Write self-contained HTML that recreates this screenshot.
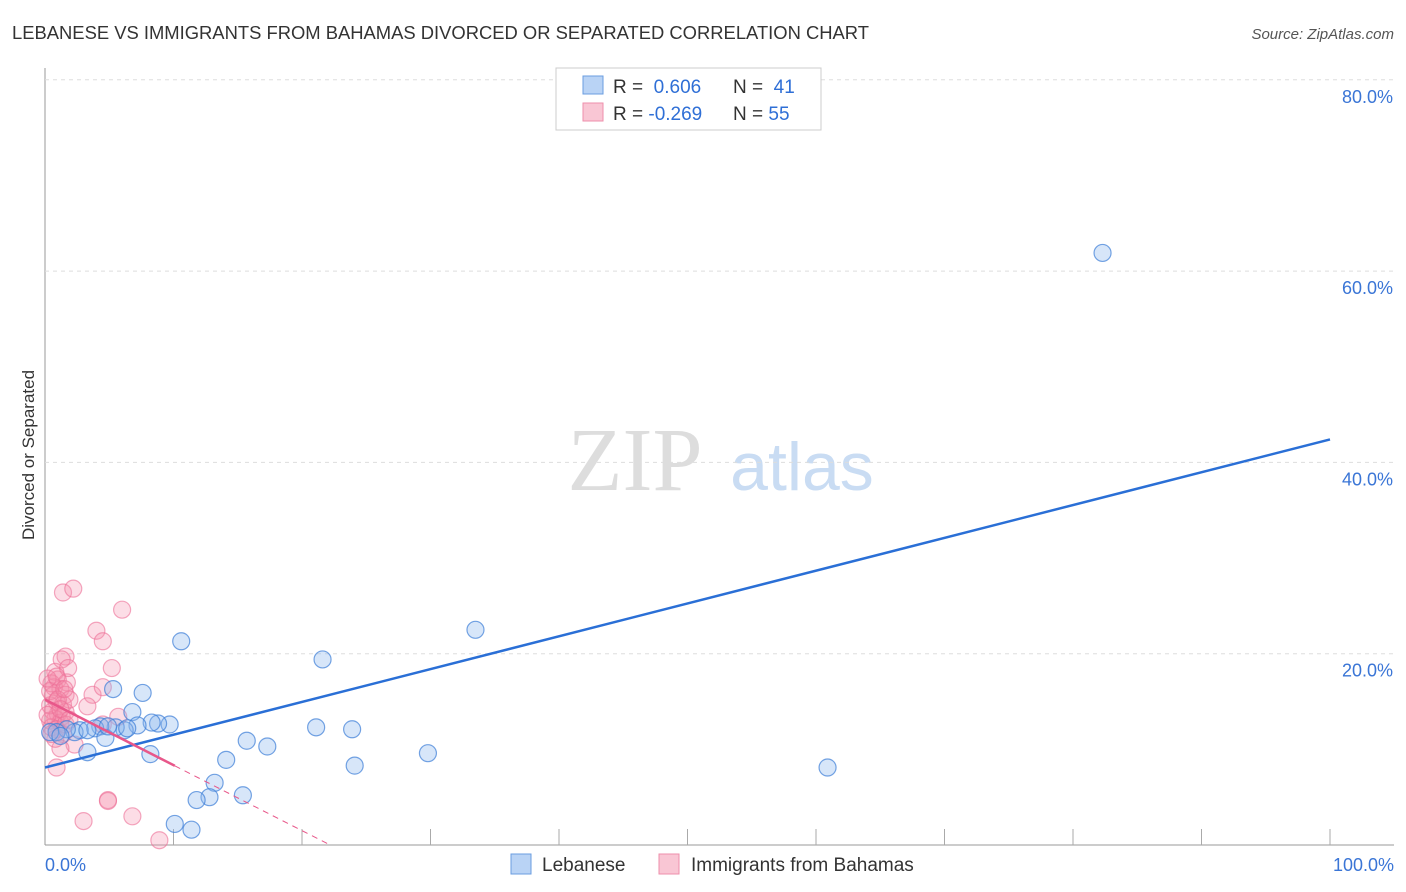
<!DOCTYPE html>
<html><head><meta charset="utf-8">
<style>
body{margin:0;background:#fff;font-family:"Liberation Sans",sans-serif;}
svg{display:block}
</style></head>
<body>
<svg id="chart" width="1406" height="892">
<text x="12" y="39" font-size="18.4" fill="#333">LEBANESE VS IMMIGRANTS FROM BAHAMAS DIVORCED OR SEPARATED CORRELATION CHART</text>
<text x="1394" y="39" font-size="15" fill="#555" font-style="italic" text-anchor="end">Source: ZipAtlas.com</text>
<text x="34" y="455" font-size="17" fill="#333" text-anchor="middle" transform="rotate(-90 34 455)">Divorced or Separated</text>
<text x="635" y="490" font-size="90" fill="#ddd" font-family="Liberation Serif,serif" text-anchor="middle">ZIP</text>
<text x="802" y="490" font-size="68" fill="#c9dcf3" text-anchor="middle">atlas</text>
<g id="grid"></g><g id="marks"></g>
<g>
<rect x="556" y="68" width="265" height="62" fill="#fff" stroke="#ccc"/>
<rect x="583" y="76" width="20" height="18" fill="#b9d3f5" stroke="#6a9de0"/>
<rect x="583" y="103" width="20" height="18" fill="#f9c6d4" stroke="#ee8fab"/>
<text x="613" y="93" font-size="19" fill="#333">R = <tspan fill="#2f6fd6">&#160;0.606</tspan></text>
<text x="733" y="93" font-size="19" fill="#333">N = <tspan fill="#2f6fd6">&#160;41</tspan></text>
<text x="613" y="120" font-size="19" fill="#333">R = <tspan fill="#2f6fd6">-0.269</tspan></text>
<text x="733" y="120" font-size="19" fill="#333">N = <tspan fill="#2f6fd6">55</tspan></text>
</g>
<g>
<rect x="511" y="854" width="20" height="20" fill="#b9d3f5" stroke="#6a9de0"/>
<text x="542" y="871" font-size="19" fill="#333">Lebanese</text>
<rect x="659" y="854" width="20" height="20" fill="#f9c6d4" stroke="#ee8fab"/>
<text x="691" y="871" font-size="19" fill="#333">Immigrants from Bahamas</text>
</g>
</svg>
<script>
const yTicks=[20,40,60,80];
const yTickLabels=["20.0%","40.0%","60.0%","80.0%"];
const xTickLabels=["0.0%","100.0%"];
const blueX=[82.3,33.5,21.6,10.6,60.9,29.8,24.1,21.1,23.9,17.3,15.7,14.1,5.3,7.6,6.8,9.7,8.8,8.3,7.2,6.2,5.5,4.3,3.9,2.7,2.3,1.7,0.9,0.4,3.3,4.7,8.2,13.2,15.4,12.8,11.8,10.1,11.4,1.2,6.4,4.9,3.3];
const blueY=[61.9,22.5,19.4,21.3,8.1,9.6,8.3,12.3,12.1,10.3,10.9,8.9,16.3,15.9,13.9,12.6,12.7,12.8,12.5,12.0,12.3,12.4,12.2,12.0,11.8,12.1,11.8,11.8,9.7,11.2,9.5,6.5,5.2,5.0,4.7,2.2,1.6,11.4,12.2,12.4,12.0];
const pinkX=[1.4,2.2,6.0,4.0,4.5,1.6,5.2,0.8,1.0,1.7,0.7,1.2,1.6,3.7,4.5,0.6,0.9,1.4,3.3,0.6,1.0,1.3,0.8,0.4,1.2,0.5,0.9,1.4,4.5,5.7,2.3,1.2,0.9,4.9,4.9,3.0,6.8,8.9,0.4,0.5,1.6,1.9,0.2,0.8,1.3,1.8,0.4,1.0,1.6,0.5,0.2,1.2,0.9,1.9,1.5];
const pinkY=[26.4,26.8,24.6,22.4,21.3,19.7,18.5,18.1,17.3,17.0,16.5,16.3,15.7,15.7,16.5,15.6,15.0,14.7,14.5,14.0,13.7,13.4,13.2,13.0,12.8,12.3,12.1,11.6,12.6,13.4,10.5,10.1,8.1,4.7,4.6,2.5,3.0,0.5,14.6,16.9,13.9,15.2,13.6,11.1,19.4,18.5,16.1,15.2,12.6,11.6,17.4,14.2,17.6,13.1,16.3];
const blueLine=[8.1,42.4]; // y at x=0 and x=100
const pinkLine=[15.2,-0.685]; // intercept, slope
const X0=45,X1=1330,Y0=845,PY=9.565;
const sx=v=>X0+(X1-X0)*v/100, sy=v=>Y0-v*PY;
const NS="http://www.w3.org/2000/svg";
function mk(t,a,p){const e=document.createElementNS(NS,t);for(const k in a)e.setAttribute(k,a[k]);p.appendChild(e);return e;}
const g=document.getElementById('grid'), m=document.getElementById('marks');
const ax=mk('line',{x1:X0,y1:68,x2:X0,y2:Y0,stroke:'#999'},g);


const bx=mk('line',{x1:X0,y1:Y0,x2:1394,y2:Y0,stroke:'#999'},g);


for(let i=1;i<=10;i++){const t=mk('line',{x1:sx(i*10),y1:Y0,x2:sx(i*10),y2:Y0-16,stroke:'#aaa'},g);

}
yTicks.forEach((v,i)=>{const l=mk('line',{x1:X0,y1:sy(v),x2:1394,y2:sy(v),stroke:'#ddd','stroke-dasharray':'4,4'},g);


const t=mk('text',{x:1393,y:sy(v)+23,'font-size':18,fill:'#3a75d6','text-anchor':'end'},g);t.textContent=yTickLabels[i];

});
[[45,'start'],[1394,'end']].forEach((p,i)=>{const t=mk('text',{x:p[0],y:871,'font-size':18,fill:'#3a75d6','text-anchor':p[1]},g);t.textContent=xTickLabels[i];

});
pinkX.forEach((x,i)=>{const c=mk('circle',{cx:sx(x),cy:sy(pinkY[i]),r:8.5,fill:'rgba(244,143,171,0.3)',stroke:'rgba(236,110,150,0.6)','stroke-width':1.2},m);

});
blueX.forEach((x,i)=>{const c=mk('circle',{cx:sx(x),cy:sy(blueY[i]),r:8.5,fill:'rgba(140,184,238,0.35)',stroke:'rgba(60,125,215,0.7)','stroke-width':1.2},m);

});
const bl=mk('line',{x1:sx(0),y1:sy(blueLine[0]),x2:sx(100),y2:sy(blueLine[1]),stroke:'#2a6fd6','stroke-width':2.5},m);


const xs=10.1, xe=-pinkLine[0]/pinkLine[1];
const pl=mk('line',{x1:sx(0),y1:sy(pinkLine[0]),x2:sx(xs),y2:sy(pinkLine[0]+pinkLine[1]*xs),stroke:'#e8578a','stroke-width':2.5},m);


const pd=mk('line',{x1:sx(xs),y1:sy(pinkLine[0]+pinkLine[1]*xs),x2:sx(xe),y2:sy(0),stroke:'#e8578a','stroke-width':1,'stroke-dasharray':'6,5'},m);


</script>
</body></html>
